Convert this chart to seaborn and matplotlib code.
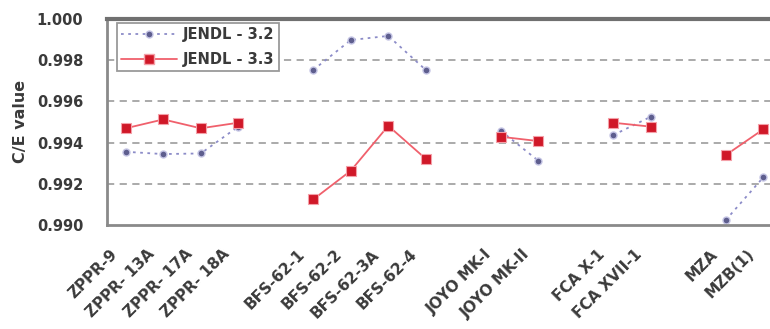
import numpy as np
import pandas as pd
import matplotlib
matplotlib.use("Agg")
import matplotlib.pyplot as plt
from matplotlib.lines import Line2D
from matplotlib.transforms import ScaledTranslation
import seaborn as sns

# Core groups and their C/E values
groups = [
    ["ZPPR-9", "ZPPR- 13A", "ZPPR- 17A", "ZPPR- 18A"],
    ["BFS-62-1", "BFS-62-2", "BFS-62-3A", "BFS-62-4"],
    ["JOYO MK-I", "JOYO MK-II"],
    ["FCA X-1", "FCA XVII-1"],
    ["MZA", "MZB(1)"],
]
jendl32 = [0.99355, 0.99344, 0.99347, 0.99477,
           0.99752, 0.99897, 0.99917, 0.99752,
           0.99457, 0.99312,
           0.99436, 0.99525,
           0.99024, 0.99231]
jendl33 = [0.99469, 0.99512, 0.99469, 0.99496,
           0.99124, 0.99263, 0.99481, 0.99321,
           0.99428, 0.99407,
           0.99496, 0.99477,
           0.99339, 0.99464]
yticks = [0.990, 0.992, 0.994, 0.996, 0.998, 1.000]

# Slot positions: one empty slot between groups
labels, pos, gid = [], [], []
slot = 0
for g, names in enumerate(groups):
    for n in names:
        labels.append(n)
        pos.append(slot)
        gid.append(g)
        slot += 1
    slot += 1
n_slots = slot - 1

df = pd.DataFrame({"case": labels, "pos": pos, "group": gid,
                   "JENDL-3.2": jendl32, "JENDL-3.3": jendl33})

sns.set_style("white")
plt.rcParams["font.family"] = ["DejaVu Sans"]

fig = plt.figure(figsize=(7.7, 3.29), dpi=100)
ax = fig.add_axes([107 / 770, 1 - 225 / 329, (782 - 107) / 770, (225 - 18.8) / 329])

c32_line, c32_mark = "#8c8cc8", "#5e5e8e"
c33_line, c33_mark = "#f0606c", "#d01828"
txt = "#3a3a3a"

sns.lineplot(data=df, x="pos", y="JENDL-3.2", units="group", estimator=None,
             color=c32_line, linestyle=(0, (1.5, 2.5)), linewidth=1.3,
             marker="o", markersize=5, markerfacecolor=c32_mark,
             markeredgecolor="#c4c4e4", markeredgewidth=1.0, ax=ax, legend=False)
sns.lineplot(data=df, x="pos", y="JENDL-3.3", units="group", estimator=None,
             color=c33_line, linestyle="-", linewidth=1.3,
             marker="s", markersize=6.5, markerfacecolor=c33_mark,
             markeredgecolor="#f4a0a8", markeredgewidth=0.8, ax=ax, legend=False)

ax.set_xlim(-0.5, n_slots - 0.5)
ax.set_ylim(0.990, 1.000)
ax.set_yticks(yticks)
ax.set_yticklabels([f"{v:.3f}" for v in yticks], fontsize=10.5,
                   fontweight="bold", color=txt)
for v in yticks[1:-1]:
    ax.axhline(v, color="#a4a4a4", linestyle=(0, (4, 3)), linewidth=1.3, zorder=0)

ax.set_xticks(np.arange(0.5, n_slots - 0.5, 1.0), minor=True)
ax.tick_params(axis="x", which="major", length=0, pad=0)
ax.tick_params(axis="x", which="minor", length=4, width=1, color="#909090",
               direction="in")
ax.tick_params(axis="y", length=0, pad=17)

ax.set_xticks(pos)
ax.set_xticklabels(labels, rotation=45, ha="right", va="center",
                   rotation_mode="anchor", fontsize=11, fontweight="bold",
                   color=txt)
shift = ScaledTranslation(-11 / 100, -27 / 100, fig.dpi_scale_trans)
for lab in ax.get_xticklabels():
    lab.set_transform(lab.get_transform() + shift)

ax.set_xlabel("")
ax.set_ylabel("C/E value", fontsize=11.5, fontweight="bold", color=txt,
              labelpad=6)

for s in ["left", "bottom"]:
    ax.spines[s].set_color("#8a8a8a")
    ax.spines[s].set_linewidth(2)
ax.spines["top"].set_color("#707070")
ax.spines["top"].set_linewidth(3)
ax.spines["right"].set_visible(False)

handles = [
    Line2D([], [], color=c32_line, linestyle=(0, (1.5, 2.5)), linewidth=1.3,
           marker="o", markersize=5, markerfacecolor=c32_mark,
           markeredgecolor="#c4c4e4"),
    Line2D([], [], color=c33_line, linestyle="-", linewidth=1.3,
           marker="s", markersize=6.5, markerfacecolor=c33_mark,
           markeredgecolor="#f4a0a8"),
]
leg = ax.legend(handles, ["JENDL - 3.2", "JENDL - 3.3"], loc="upper left",
                bbox_to_anchor=(10 / 675, 1 - 4 / 206), borderaxespad=0,
                frameon=True, fancybox=False, framealpha=1,
                edgecolor="#9a9a9a", handlelength=3.8, handletextpad=0.4,
                borderpad=0.3, labelspacing=0.65,
                prop={"size": 10.5, "weight": "bold"})
leg.get_frame().set_linewidth(1.3)
for t in leg.get_texts():
    t.set_color(txt)

fig.savefig("out.png", dpi=100)
